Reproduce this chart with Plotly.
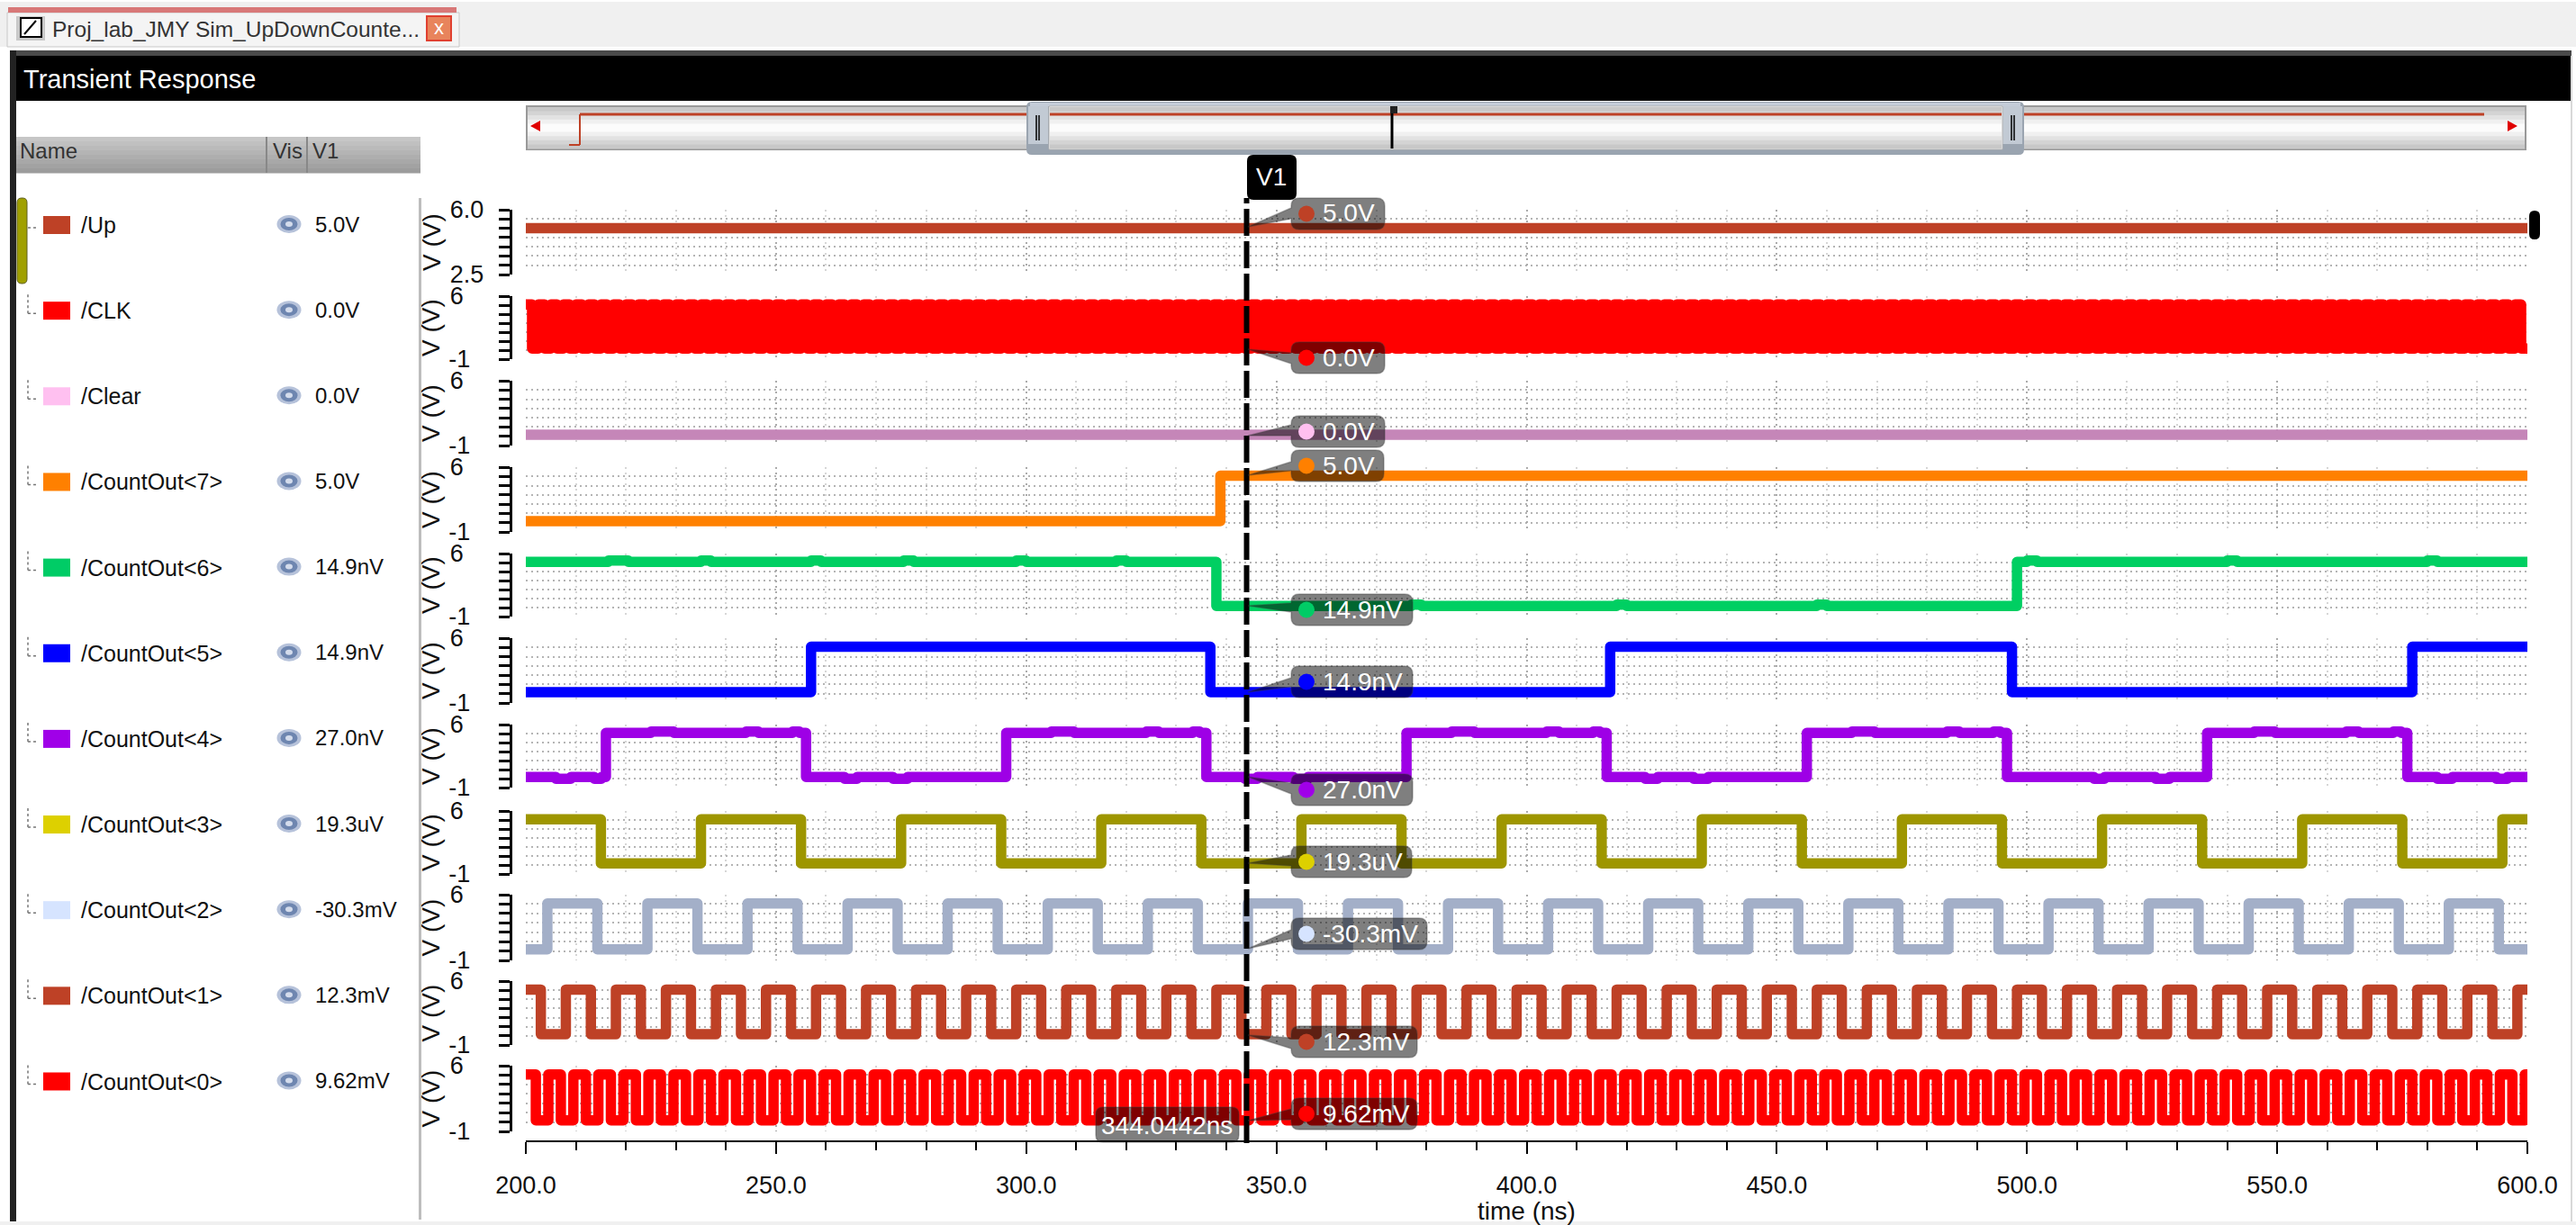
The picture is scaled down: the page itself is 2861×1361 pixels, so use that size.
import plotly.graph_objects as go

W, H = 2861, 1361

# ---------- data ----------
NAMES = ["/Up", "/CLK", "/Clear", "/CountOut<7>", "/CountOut<6>", "/CountOut<5>", "/CountOut<4>",
         "/CountOut<3>", "/CountOut<2>", "/CountOut<1>", "/CountOut<0>"]
V1_VALUES = ["5.0V", "0.0V", "0.0V", "5.0V", "14.9nV", "14.9nV", "27.0nV", "19.3uV", "-30.3mV", "12.3mV", "9.62mV"]
SWATCH = ["#BE4126", "#FF0000", "#FFC0F0", "#FF8000", "#00CC66", "#0000FF", "#A000E8", "#DDD000", "#D6E4FF", "#BE4126", "#FF0000"]
LINE = ["#BE4126", "#FF0000", "#C586B8", "#FF8000", "#00CF62", "#0000FF", "#9E00E6", "#9E9600", "#A3AFC8", "#BE4126", "#FF0000"]

T_START, T_END = 199.2, 600.6
V1_TIME = 344.0442
V1_TEXT = "344.0442ns"
X_TICK_LABELS = ["200.0", "250.0", "300.0", "350.0", "400.0", "450.0", "500.0", "550.0", "600.0"]
X_TICKS = [200, 250, 300, 350, 400, 450, 500, 550, 600]

CLK_EDGES = [
 201.25,202.5,203.75,205,206.25,207.5,208.75,210,211.25,212.5,213.75,215,216.25,217.5,218.75,220,
 221.25,222.5,223.75,225,226.25,227.5,228.75,230,231.25,232.5,233.75,235,236.25,237.5,238.75,240,
 241.25,242.5,243.75,245,246.25,247.5,248.75,250,251.25,252.5,253.75,255,256.25,257.5,258.75,260,
 261.25,262.5,263.75,265,266.25,267.5,268.75,270,271.25,272.5,273.75,275,276.25,277.5,278.75,280,
 281.25,282.5,283.75,285,286.25,287.5,288.75,290,291.25,292.5,293.75,295,296.25,297.5,298.75,300,
 301.25,302.5,303.75,305,306.25,307.5,308.75,310,311.25,312.5,313.75,315,316.25,317.5,318.75,320,
 321.25,322.5,323.75,325,326.25,327.5,328.75,330,331.25,332.5,333.75,335,336.25,337.5,338.75,340,
 341.25,342.5,343.75,345,346.25,347.5,348.75,350,351.25,352.5,353.75,355,356.25,357.5,358.75,360,
 361.25,362.5,363.75,365,366.25,367.5,368.75,370,371.25,372.5,373.75,375,376.25,377.5,378.75,380,
 381.25,382.5,383.75,385,386.25,387.5,388.75,390,391.25,392.5,393.75,395,396.25,397.5,398.75,400,
 401.25,402.5,403.75,405,406.25,407.5,408.75,410,411.25,412.5,413.75,415,416.25,417.5,418.75,420,
 421.25,422.5,423.75,425,426.25,427.5,428.75,430,431.25,432.5,433.75,435,436.25,437.5,438.75,440,
 441.25,442.5,443.75,445,446.25,447.5,448.75,450,451.25,452.5,453.75,455,456.25,457.5,458.75,460,
 461.25,462.5,463.75,465,466.25,467.5,468.75,470,471.25,472.5,473.75,475,476.25,477.5,478.75,480,
 481.25,482.5,483.75,485,486.25,487.5,488.75,490,491.25,492.5,493.75,495,496.25,497.5,498.75,500,
 501.25,502.5,503.75,505,506.25,507.5,508.75,510,511.25,512.5,513.75,515,516.25,517.5,518.75,520,
 521.25,522.5,523.75,525,526.25,527.5,528.75,530,531.25,532.5,533.75,535,536.25,537.5,538.75,540,
 541.25,542.5,543.75,545,546.25,547.5,548.75,550,551.25,552.5,553.75,555,556.25,557.5,558.75,560,
 561.25,562.5,563.75,565,566.25,567.5,568.75,570,571.25,572.5,573.75,575,576.25,577.5,578.75,580,
 581.25,582.5,583.75,585,586.25,587.5,588.75,590,591.25,592.5,593.75,595,596.25,597.5,598.75]
COUNT0_EDGES = [
 202,204.5,207,209.5,212,214.5,217,219.5,222,224.5,227,229.5,232,234.5,237,239.5,
 242,244.5,247,249.5,252,254.5,257,259.5,262,264.5,267,269.5,272,274.5,277,279.5,
 282,284.5,287,289.5,292,294.5,297,299.5,302,304.5,307,309.5,312,314.5,317,319.5,
 322,324.5,327,329.5,332,334.5,337,339.5,342,344.5,347,349.5,352,354.5,357,359.5,
 362,364.5,367,369.5,372,374.5,377,379.5,382,384.5,387,389.5,392,394.5,397,399.5,
 402,404.5,407,409.5,412,414.5,417,419.5,422,424.5,427,429.5,432,434.5,437,439.5,
 442,444.5,447,449.5,452,454.5,457,459.5,462,464.5,467,469.5,472,474.5,477,479.5,
 482,484.5,487,489.5,492,494.5,497,499.5,502,504.5,507,509.5,512,514.5,517,519.5,
 522,524.5,527,529.5,532,534.5,537,539.5,542,544.5,547,549.5,552,554.5,557,559.5,
 562,564.5,567,569.5,572,574.5,577,579.5,582,584.5,587,589.5,592,594.5,597,599.5]
COUNT1_EDGES = [
 203,208,213,218,223,228,233,238,243,248,253,258,263,268,273,278,283,288,293,298,
 303,308,313,318,323,328,333,338,343,348,353,358,363,368,373,378,383,388,393,398,
 403,408,413,418,423,428,433,438,443,448,453,458,463,468,473,478,483,488,493,498,
 503,508,513,518,523,528,533,538,543,548,553,558,563,568,573,578,583,588,593,598]
COUNT2_EDGES = [
 204.3,214.3,224.3,234.3,244.3,254.3,264.3,274.3,284.3,294.3,304.3,314.3,324.3,334.3,344.3,354.3,
 364.3,374.3,384.3,394.3,404.3,414.3,424.3,434.3,444.3,454.3,464.3,474.3,484.3,494.3,504.3,514.3,
 524.3,534.3,544.3,554.3,564.3,574.3,584.3,594.3]
COUNT3_EDGES = [215,235,255,275,295,315,335,355,375,395,415,435,455,475,495,515,535,555,575,595]
COUNT5_EDGES = [257,336.8,416.7,497,577]
COUNT7_EDGES = [338.8]

COUNT6_T = [199.2,216.5,220.5,235,237,257,259,275.5,277.5,298,300,318,320,338,377,379,418,420,458,460,498,500,502,540,542,580,582]
COUNT6_V = [5,5.15,5,5.15,5,5.15,5,5.15,5,5.15,5,5.15,5,0,0.15,0,0.15,0,0.15,0,5,5.15,5,5.15,5,5.15,5]
COUNT4_T = [199.2,206,209,213.7,215.1,216,225,229.6,244,246.5,253.3,254.7,256,263.7,266.2,273.4,276.3,
            296,305,309.6,324,326.5,333.3,334.7,336,343.7,346.2,353.4,356.3,
            376,385,389.6,404,406.5,413.3,414.7,416,423.7,426.2,433.4,436.3,
            456,465,469.6,484,486.5,493.3,494.7,496,513.4,515.5,525.7,528.5,
            536,545.4,549.6,563.8,566.3,573.2,574.8,576,582,585,593.8,596]
COUNT4_V = [0,-0.2,0,-0.2,0,5,5.15,5,5.15,5,5.15,5,0,-0.2,0,-0.2,0,
            5,5.15,5,5.15,5,5.15,5,0,-0.2,0,-0.2,0,
            5,5.15,5,5.15,5,5.15,5,0,-0.2,0,-0.2,0,
            5,5.15,5,5.15,5,5.15,5,0,-0.2,0,-0.2,0,
            5,5.15,5,5.15,5,5.15,5,0,-0.2,0,-0.2,0]

# (name of the edges list, level before the first edge)
def wave(edges, first):
    xs, ys, lvl = [T_START], [first], first
    for e in edges:
        lvl = 0 if lvl == 5 else 5
        xs.append(e); ys.append(lvl)
    xs.append(T_END); ys.append(ys[-1])
    return xs, ys

WAVES = [
    ([T_START, T_END], [5, 5]),
    wave(CLK_EDGES, 5),
    ([T_START, T_END], [0, 0]),
    wave(COUNT7_EDGES, 0),
    (COUNT6_T + [T_END], COUNT6_V + [5]),
    wave(COUNT5_EDGES, 0),
    (COUNT4_T + [T_END], COUNT4_V + [0]),
    wave(COUNT3_EDGES, 5),
    wave(COUNT2_EDGES, 0),
    wave(COUNT1_EDGES, 5),
    wave(COUNT0_EDGES, 5),
]

# ---------- geometry (pixels of the page) ----------
ROW_TOP = [233, 329, 423, 519, 615, 709, 805, 901, 994, 1090, 1184]
ROW_BOT = [305, 399, 495, 591, 685, 781, 875, 971, 1067, 1161, 1257]
PLOT_L, PLOT_R = 584, 2807
AXIS_X = 566.7
AXIS_Y = 1268
Y_LO, Y_HI = -1.2, 5.95
ROW_CY = [250 + 95.15 * i for i in range(11)]

# box x1, box y0, pointer tip y, pointer base y0/y1
BOX_X1 = [1538, 1538, 1538, 1537, 1569, 1569, 1569, 1568, 1585, 1574, 1574]
BOX_Y0 = [220, 380, 462, 500, 660, 740, 860, 940, 1020, 1140, 1220]
TIP_Y = [252, 388, 484, 528, 673, 769, 863, 959, 1054, 1150, 1245]
BASE_Y = [(231, 243), (392, 404), (472, 484), (513, 523), (670, 680), (753, 763),
          (870, 882), (950, 962), (1033, 1043), (1153, 1165), (1232, 1244)]


def fx(px):
    return px / W


def fy(py):
    return 1 - py / H


shapes, notes = [], []


def rect(x0, y0, x1, y1, fill, line=None, lw=0):
    shapes.append(dict(type="rect", xref="paper", yref="paper", x0=fx(x0), x1=fx(x1), y0=fy(y1), y1=fy(y0),
                       fillcolor=fill, line=dict(color=line or fill, width=lw)))


def grad(x0, y0, x1, y1, colors):
    n = len(colors)
    for i, c in enumerate(colors):
        rect(x0, y0 + (y1 - y0) * i / n, x1, y0 + (y1 - y0) * (i + 1) / n + 0.5, c)


def ell(cx, cy, rx, ry, fill):
    shapes.append(dict(type="circle", xref="paper", yref="paper", x0=fx(cx - rx), x1=fx(cx + rx),
                       y0=fy(cy + ry), y1=fy(cy - ry), fillcolor=fill, line=dict(width=0)))


def seg(x0, y0, x1, y1, color, width, dash="solid"):
    shapes.append(dict(type="line", xref="paper", yref="paper", x0=fx(x0), x1=fx(x1), y0=fy(y0), y1=fy(y1),
                       line=dict(color=color, width=width, dash=dash)))


def p(x, y):
    return f"{fx(x):.6f},{fy(y):.6f}"


def rounded(x0, y0, x1, y1, r, fill, line="rgba(0,0,0,0)", lw=0, pointer=None):
    d = f"M{p(x0 + r, y0)} L{p(x1 - r, y0)} Q{p(x1, y0)} {p(x1, y0 + r)} L{p(x1, y1 - r)} Q{p(x1, y1)} {p(x1 - r, y1)} "
    d += f"L{p(x0 + r, y1)} Q{p(x0, y1)} {p(x0, y1 - r)} "
    if pointer:
        tx, ty, b0, b1 = pointer
        d += f"L{p(x0, b1)} L{p(tx, ty)} L{p(x0, b0)} "
    d += f"L{p(x0, y0 + r)} Q{p(x0, y0)} {p(x0 + r, y0)} Z"
    shapes.append(dict(type="path", xref="paper", yref="paper", path=d, fillcolor=fill, line=dict(color=line, width=lw)))


def text(x, y, s, size, color="#111111", anchor="left"):
    notes.append(dict(xref="paper", yref="paper", x=fx(x), y=fy(y), text=s, showarrow=False, xanchor=anchor,
                      yanchor="middle", borderpad=0, font=dict(family="Liberation Sans", size=size, color=color)))


# ---------- window chrome ----------
rect(0, 2, W, 52, "#F0F0F0")
rect(8, 14, 510, 52, "#F4F4F4", "#C8C8C8", 1)
rect(9, 8, 507, 14, "#D87878")
rect(18, 18, 50, 45, "#C8C8C8")
rect(23, 20, 46, 41, "#FFFFFF", "#000000", 2)
seg(27, 38, 40, 23, "#000000", 2)
text(57, 32, "Proj_lab_JMY Sim_UpDownCounte...", 24.5, "#333333")
rect(474, 18, 501, 45, "#E8845C", "#E04030", 2)
text(487.5, 31, "x", 22, "#FFFFFF", "center")
rect(11, 56, W - 5, 62, "#4A4A4A")
rect(11, 56, 18, H, "#222222")
rect(18, 62, 2855, 112, "#000000")
rect(2855, 62, 2857, H, "#D8D8D8")
rect(0, 1357, W, H, "#F0F0F0")
text(25, 88, "Transient Response", 29, "#FFFFFF")

# scrollbar with the overview
BAR = ["#C8C8C8", "#D4D4D4", "#E2E2E2", "#F0F0F0", "#FCFCFC", "#FCFCFC", "#F0F0F0", "#E2E2E2", "#D4D4D4", "#C8C8C8"]
rect(585, 118, 2805, 166, "#FFFFFF", "#999999", 2)
grad(586, 119, 2804, 165, BAR)
seg(632, 161, 644, 161, "#BE4126", 2)
seg(644, 161, 644, 127, "#BE4126", 2)
seg(644, 127, 2759, 127, "#BE4126", 3)
shapes.append(dict(type="path", xref="paper", yref="paper", fillcolor="#E00000", line=dict(width=0),
                   path=f"M{p(589, 140)} L{p(600, 134)} L{p(600, 146)} Z"))
shapes.append(dict(type="path", xref="paper", yref="paper", fillcolor="#E00000", line=dict(width=0),
                   path=f"M{p(2796, 140)} L{p(2785, 134)} L{p(2785, 146)} Z"))
rounded(1140, 113, 2248, 172, 6, "#9AA4B0")
rect(1144, 114, 2244, 118, "#C4CCD8")
rect(1142, 118, 1164, 160, "#C2CAD4")
rect(2224, 118, 2246, 160, "#C2CAD4")
rect(1165, 118, 2224, 166, "#FFFFFF", "#B0B0B0", 1)
grad(1166, 119, 2223, 165, BAR)
seg(1166, 127, 2223, 127, "#BE4126", 3)
seg(1151, 128, 1151, 156, "#000000", 1.5)
seg(1154, 128, 1154, 156, "#000000", 1.5)
seg(2234, 128, 2234, 156, "#000000", 1.5)
seg(2237, 128, 2237, 156, "#000000", 1.5)
seg(1546, 118, 1546, 165, "#000000", 3)
rect(1544, 118, 1552, 126, "#222222")

# signal list
grad(18, 152, 467, 192, ["#C6C6C6", "#C0C0C0", "#BABABA", "#B4B4B4", "#AEAEAE", "#A8A8A8", "#A2A2A2", "#9C9C9C"])
rect(295, 152, 297, 192, "#888888")
rect(340, 152, 342, 192, "#888888")
text(21, 167, "Name", 24, "#333333")
text(302, 167, "Vis", 24, "#333333")
text(346, 167, "V1", 24, "#333333")
rect(465, 220, 468, 1355, "#BDBDBD")
rounded(19, 220, 30, 315, 5, "#A0A000", "#606020", 1)

for i in range(11):
    cy = ROW_CY[i]
    if i:
        seg(31, cy - 18, 31, cy + 3, "#777777", 1.5, "dot")
    seg(31, cy + 3, 40, cy + 3, "#777777", 1.5, "dot")
    rect(48, cy - 10, 78, cy + 10, SWATCH[i])
    text(89, cy, NAMES[i].replace("<", "&lt;").replace(">", "&gt;"), 25)
    ell(321, cy - 1, 13.5, 10, "#B6C2DA")
    ell(321, cy - 1, 9.5, 7, "#6E86B0")
    ell(321, cy - 1, 4, 3, "#D4DCEC")
    text(349, cy - 1, V1_VALUES[i], 24)

rounded(2809, 234, 2821, 266, 6, "#000000")

# V1 cursor
shapes.append(dict(type="line", xref="x", yref="paper", x0=V1_TIME, x1=V1_TIME, y0=fy(AXIS_Y + 2), y1=fy(220),
                   line=dict(color="#000000", width=6, dash="30px,6px")))
rounded(1385, 172, 1440, 222, 7, "#000000")
text(1412, 196, "V1", 28, "#FFFFFF", "center")

for i in range(11):
    y0 = BOX_Y0[i]
    rounded(1434, y0, BOX_X1[i], y0 + 35, 9, "rgba(0,0,0,0.5)", "rgba(60,60,60,0.35)", 1.5,
            pointer=(1386, TIP_Y[i], BASE_Y[i][0], BASE_Y[i][1]))
    ell(1451, y0 + 17.5, 9, 9, SWATCH[i])
    text(1468, y0 + 17, V1_VALUES[i], 28, "#FFFFFF")
rounded(1217, 1230, 1376, 1269, 8, "rgba(0,0,0,0.5)", "rgba(60,60,60,0.35)", 1.5)
text(1296, 1250, V1_TEXT, 28, "#FFFFFF", "center")

# ---------- traces and axes ----------
fig = go.Figure()
layout = dict(width=W, height=H, margin=dict(l=0, r=0, t=0, b=0, pad=0, autoexpand=False), paper_bgcolor="#FFFFFF",
              plot_bgcolor="rgba(0,0,0,0)", showlegend=False, hovermode=False,
              font=dict(family="Liberation Sans", color="#111111"))
GRID_H = "#B4B4B4"
for i in range(11):
    n = "" if i == 0 else str(i + 1)
    xs, ys = WAVES[i]
    fig.add_trace(go.Scatter(x=xs, y=ys, name=NAMES[i], mode="lines", cliponaxis=False, xaxis=f"x{n}", yaxis=f"y{n}",
                             line=dict(color=LINE[i], width=11.5, shape="hv")))
    last = i == 10
    xa = dict(domain=[fx(PLOT_L), fx(PLOT_R)], range=[200, 600], anchor=f"y{n}", zeroline=False, automargin=False,
              tickmode="array", tickvals=X_TICKS, ticktext=X_TICK_LABELS,
              showgrid=True, gridcolor="#ABABAB", griddash="2px,4px", gridwidth=2,
              minor=dict(dtick=10, tick0=200, showgrid=True, gridcolor="#D6D6D6", griddash="2px,4px", gridwidth=2,
                         ticks="outside" if last else "", ticklen=9, tickwidth=2, tickcolor="#000000"),
              showticklabels=last, ticks="outside" if last else "", ticklen=13, tickwidth=2, tickcolor="#000000",
              showline=last, linecolor="#000000", linewidth=2)
    if last:
        xa.update(anchor="free", position=fy(AXIS_Y), tickfont=dict(size=27, color="#111111"), ticklabelstandoff=12,
                  title=dict(text="time (ns)", font=dict(size=28, color="#111111"), standoff=6))
    if i == 0:
        lo, hi, dt, labels, stand = 2.5, 6.0, 0.5, ["2.5", "6.0"], 11
    else:
        lo, hi, dt, labels, stand = Y_LO, Y_HI, (Y_HI - Y_LO) / 7, ["-1", "6\u00a0"], 26
    ya = dict(domain=[fy(ROW_BOT[i]), fy(ROW_TOP[i])], range=[lo, hi], anchor="free", position=fx(AXIS_X), zeroline=False,
              automargin=False,
              tickmode="array", tickvals=[lo, hi], ticktext=labels, tickfont=dict(size=27, color="#111111"),
              ticklabelstandoff=stand, ticks="outside", ticklen=12, tickwidth=3, tickcolor="#000000",
              showline=True, linecolor="#000000", linewidth=3,
              showgrid=True, gridcolor=GRID_H, griddash="2px,4px", gridwidth=2,
              minor=dict(tick0=lo, dtick=dt, ticks="outside", ticklen=12, tickwidth=3, tickcolor="#000000",
                         showgrid=True, gridcolor=GRID_H, griddash="2px,4px", gridwidth=2),
              title=dict(text="V (V)", font=dict(size=28, color="#111111"), standoff=0))
    layout[f"xaxis{n}"] = xa
    layout[f"yaxis{n}"] = ya

layout["shapes"] = shapes
layout["annotations"] = notes
fig.update_layout(**layout)
fig.write_html("out.html", config=dict(displayModeBar=False, staticPlot=True),
               post_script=("document.body.style.margin='0';document.body.style.overflow='hidden';"
                            "var st=document.createElement('style');"
                            "st.textContent='.scatterlayer .js-line{stroke-linejoin:round !important}';"
                            "document.head.appendChild(st);"))
